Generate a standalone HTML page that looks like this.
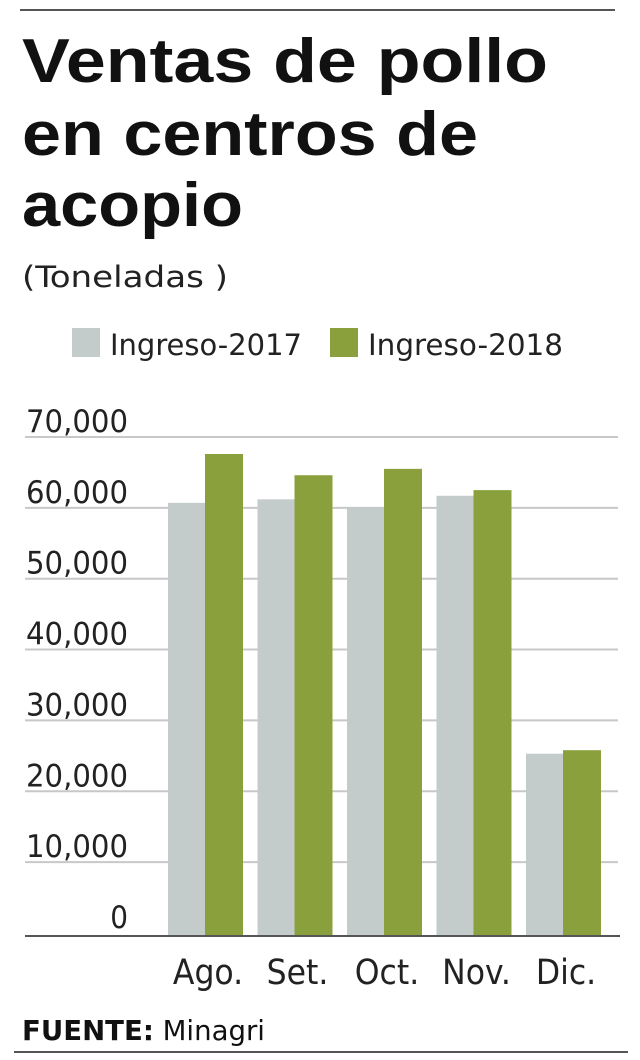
<!DOCTYPE html>
<html><head><meta charset="utf-8"><style>
html,body{margin:0;padding:0;background:#fff;}
svg{display:block;font-family:"DejaVu Sans Condensed","Liberation Sans",sans-serif;}
</style></head><body>
<svg id="c" width="640" height="1060" viewBox="0 0 640 1060">
<line x1="20" y1="10" x2="615" y2="10" stroke="#555" stroke-width="2"/>
<g font-weight="bold" font-size="62" fill="#111" font-family="'Liberation Sans',sans-serif">
<text x="22" y="82" textLength="526" lengthAdjust="spacingAndGlyphs">Ventas de pollo</text>
<text x="22" y="155" textLength="456" lengthAdjust="spacingAndGlyphs">en centros de</text>
<text x="22" y="226" textLength="221" lengthAdjust="spacingAndGlyphs">acopio</text>
</g>
<text x="22" y="287" font-size="29" fill="#222" textLength="206" lengthAdjust="spacingAndGlyphs">(Toneladas )</text>
<g>
<rect x="72" y="328" width="28" height="29" fill="#c3cbcb"/>
<text x="110" y="355" font-size="29" fill="#222" textLength="192" lengthAdjust="spacingAndGlyphs">Ingreso-2017</text>
<rect x="330" y="328" width="28" height="29" fill="#8aa03c"/>
<text x="368" y="355" font-size="29" fill="#222" textLength="195" lengthAdjust="spacingAndGlyphs">Ingreso-2018</text>
</g>
<g id="grid"></g><g id="bars"></g><g id="labels"></g>
<line x1="25" y1="936" x2="620" y2="936" stroke="#555" stroke-width="2"/>
<text x="22" y="1040" font-size="28" fill="#111" textLength="243" lengthAdjust="spacingAndGlyphs"><tspan font-weight="bold">FUENTE:</tspan> Minagri</text>
<line x1="14" y1="1052" x2="628" y2="1052" stroke="#555" stroke-width="2"/>
</svg>
<script>
const categories=["Ago.","Set.","Oct.","Nov.","Dic."];
const values2017=[60700,61200,60100,61700,25300];
const values2018=[67600,64600,65500,62500,25800];
const ticks=[0,10000,20000,30000,40000,50000,60000,70000];
const tickLabels=["0","10,000","20,000","30,000","40,000","50,000","60,000","70,000"];
const NS="http://www.w3.org/2000/svg";
const y0=933, pxPer=70.86/10000;
function y(v){return y0-v*pxPer;}
function x(i){return 205+i*89.5;}
function mk(tag,attrs,parent){const e=document.createElementNS(NS,tag);for(const k in attrs)e.setAttribute(k,attrs[k]);parent.appendChild(e);return e;}
const grid=document.getElementById('grid'),bars=document.getElementById('bars'),labels=document.getElementById('labels');
ticks.forEach((t,i)=>{
  if(t>0){const l=mk('line',{x1:25,x2:618,y1:y(t),y2:y(t),stroke:'#c8c8c8','stroke-width':2},grid);
  
  }
  const attrs={x:128,y:y(t)-5,'text-anchor':'end','font-size':31,fill:'#222'};
  if(tickLabels[i].length>1){attrs.textLength=tickLabels[i].length*17;attrs.lengthAdjust='spacingAndGlyphs';}
  const tx=mk('text',attrs,grid);
  tx.textContent=tickLabels[i];
  
  
});
categories.forEach((c,i)=>{
  const a=mk('rect',{x:x(i)-37,y:y(values2017[i]),width:37,height:y(0)-y(values2017[i])+3,fill:'#c3cbcb'},bars);
  
  
  const b=mk('rect',{x:x(i),y:y(values2018[i]),width:38,height:y(0)-y(values2018[i])+3,fill:'#8aa03c'},bars);
  
  
  const t=mk('text',{x:x(i)+3,y:984,'text-anchor':'middle','font-size':35,fill:'#222'},labels);
  t.textContent=c;
  
  
});
</script>
</body></html>
